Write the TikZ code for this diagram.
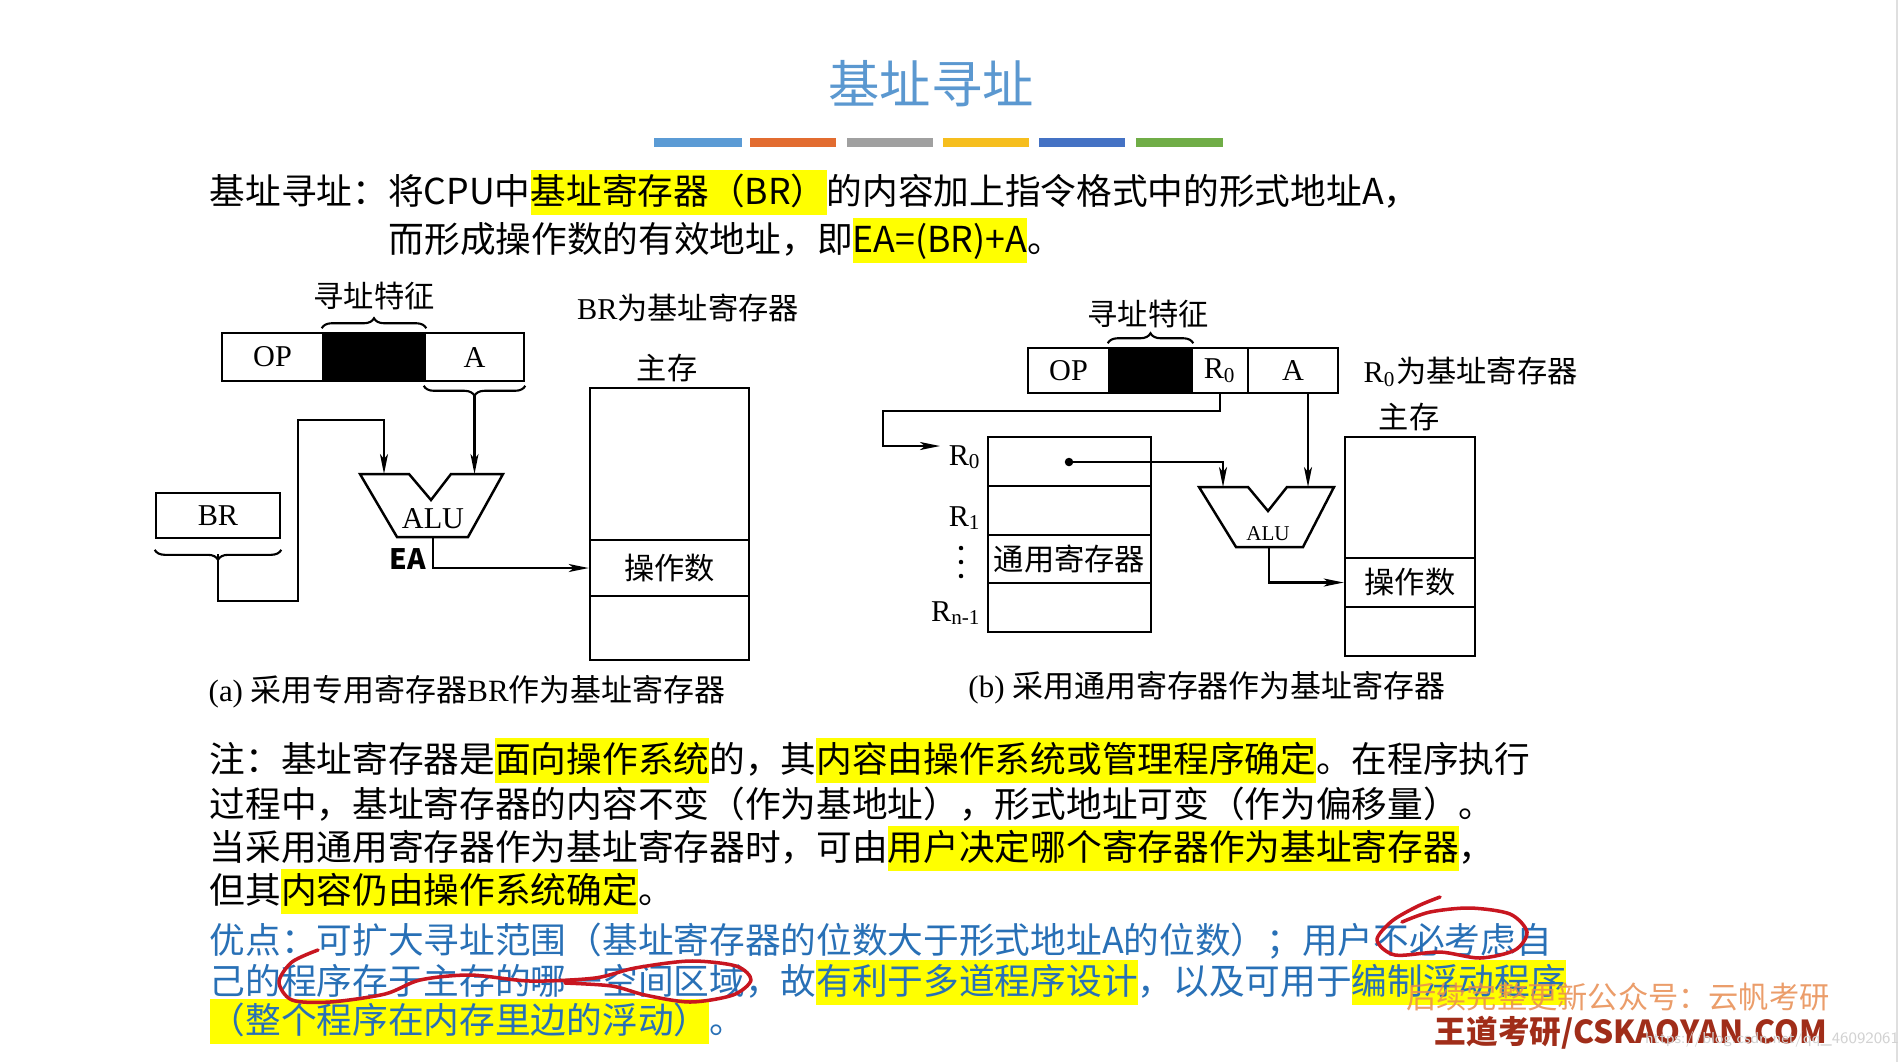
\documentclass[tikz,border=0pt]{standalone}
\usepackage{fontspec}
\setmainfont{Liberation Serif}
\newfontfamily\cjk{Noto Sans CJK SC}
\usetikzlibrary{arrows.meta,decorations.pathreplacing}

\definecolor{titleblue}{RGB}{91,152,208}
\definecolor{advblue}{RGB}{40,112,182}
\definecolor{hlyellow}{RGB}{255,255,0}
\definecolor{penred}{RGB}{200,22,32}
\definecolor{wmorange}{RGB}{232,140,80}
\definecolor{wmred}{RGB}{160,45,25}
\definecolor{barA}{RGB}{91,155,213}
\definecolor{barB}{RGB}{226,108,48}
\definecolor{barC}{RGB}{160,160,160}
\definecolor{barD}{RGB}{246,190,30}
\definecolor{barE}{RGB}{68,114,196}
\definecolor{barF}{RGB}{112,173,71}

\newcommand\lbl{\fontsize{8.6}{10}\selectfont}
\newcommand\hl[1]{{\setlength\fboxsep{0pt}\colorbox{hlyellow}{\rule[-3.2pt]{0pt}{13pt}#1}}}

\begin{document}
\begin{tikzpicture}[x=0.01cm, y=-0.01cm,
  box/.style={draw, line width=0.7pt},
  cell/.style={box, inner sep=0pt, font=\lbl},
  lbl/.style={inner sep=0pt, font=\lbl},
  zh/.style={inner sep=0pt, font=\cjk\lbl},
  wire/.style={line width=0.6pt},
  conn/.style={wire, -{Stealth[length=0.2cm,width=0.08cm,inset=0.05cm]}},
  brc/.style={line width=0.6pt, decorate, decoration={brace, amplitude=0.1cm}},
  vdot/.style={circle, fill, inner sep=0pt, minimum size=0.045cm},
  body/.style={inner sep=0pt, anchor=base west, font=\cjk\fontsize{10.15}{13}\selectfont},
  adv/.style={body, text=advblue},
  pen/.style={draw=penred, line width=1pt, line cap=round, line join=round}]
\useasboundingbox (0,0) rectangle (1902,1062);
\fill[white] (0,0) rectangle (1902,1062);
\draw[gray!25] (1897,0) -- (1897,1062);

% title and bars
\node[inner sep=0pt, font=\cjk\fontsize{14.6}{16}\selectfont, text=titleblue] (title) at (931,84) {基址寻址};
\fill[barA] (654,138) rectangle (742,147);
\fill[barB] (750,138) rectangle (836,147);
\fill[barC] (847,138) rectangle (933,147);
\fill[barD] (943,138) rectangle (1029,147);
\fill[barE] (1039,138) rectangle (1125,147);
\fill[barF] (1136,138) rectangle (1223,147);

% definition
\node[body] (defA) at (209,204) {基址寻址：将CPU中\hl{基址寄存器（BR）}的内容加上指令格式中的形式地址A，};
\node[body] (defB) at (388,252) {而形成操作数的有效地址，即\hl{EA=(BR)+A}。};

% (a) dedicated BR
\node[zh] (featA) at (374,296) {寻址特征};
\node[cell, minimum width=1.01cm, minimum height=0.48cm] (opA) at (272.5,357) {OP};
\node[cell, fill=black, minimum width=1.02cm, minimum height=0.48cm] (modA) at (374,357) {};
\node[cell, minimum width=0.99cm, minimum height=0.48cm] (addrA) at (474.5,357) {A};
\draw[brc] ([yshift=1pt]modA.north west) -- ([yshift=1pt]modA.north east);
\draw[brc] ([yshift=-1pt]addrA.south east) -- ([yshift=-1pt]addrA.south west);
\coordinate (aTip) at ([yshift=-0.13cm]addrA.south);

\node[cell, minimum width=1.24cm, minimum height=0.45cm] (brA) at (218,515.5) {BR};
\draw[brc] ([yshift=-3pt]brA.south east) -- ([yshift=-3pt]brA.south west);
\coordinate (brTip) at ([yshift=-0.15cm]brA.south);

\coordinate (aluAinL) at (384,474);
\coordinate (aluAinR) at (474.5,474);
\coordinate (aluAout) at (433,537);
\draw[box] (360,474) -- (409,474) -- (431,500) -- (451,474) -- (503,474) -- (468,537) -- (397,537) -- cycle;
\node[lbl] (aluA) at (433,519) {ALU};
\node[inner sep=0pt, font=\cjk\bfseries\fontsize{8}{9}\selectfont] (ea) at (408,559) {EA};

\draw[conn] (brTip) -- ++(0,47) -| (298,420) -| (aluAinL);
\draw[conn] (aTip) -- (aluAinR);

\node[zh] (bsA) at (688,308) {{\rmfamily BR}为基址寄存器};
\node[zh] (mainA) at (667,368) {主存};
\node[cell, minimum width=1.59cm, minimum height=1.52cm] (memAtop) at (669.5,464) {};
\node[cell, font=\cjk\lbl, minimum width=1.59cm, minimum height=0.56cm] (memAop) at (669.5,568) {操作数};
\node[cell, minimum width=1.59cm, minimum height=0.64cm] (memAbot) at (669.5,628) {};
\draw[conn] (aluAout) |- (memAop.west);

\node[lbl, font=\fontsize{8.8}{10}\selectfont] (capA) at (467,692) {(a) {\cjk 采用专用寄存器}BR{\cjk 作为基址寄存器}};

% (b) general register as base
\node[zh] (featB) at (1148,314) {寻址特征};
\node[cell, minimum width=0.81cm, minimum height=0.45cm] (opB) at (1068.5,370.5) {OP};
\node[cell, fill=black, minimum width=0.83cm, minimum height=0.45cm] (modB) at (1150.5,370.5) {};
\node[cell, minimum width=0.56cm, minimum height=0.45cm] (regB) at (1220,370.5) {R\textsubscript{0}};
\node[cell, minimum width=0.90cm, minimum height=0.45cm] (addrB) at (1293,370.5) {A};
\draw[brc] ([yshift=1pt]modB.north west) -- ([yshift=1pt]modB.north east);
\node[zh, anchor=west] (bsB) at (1363,372) {{\rmfamily R\textsubscript{0}}为基址寄存器};

\node[cell, minimum width=1.63cm, minimum height=0.49cm] (r0B) at (1069.5,461.5) {};
\node[cell, minimum width=1.63cm, minimum height=0.49cm] (r1B) at (1069.5,510.5) {};
\node[cell, font=\cjk\lbl, minimum width=1.63cm, minimum height=0.48cm] (genB) at (1069.5,559) {通用寄存器};
\node[cell, minimum width=1.63cm, minimum height=0.49cm] (rnB) at (1069.5,607.5) {};
\node[lbl, anchor=east] (r0lbl) at (982,457) {R\textsubscript{0}};
\node[lbl, anchor=east] (r1lbl) at (982,518) {R\textsubscript{1}};
\node[vdot] (dotA) at (961,548) {};
\node[vdot] (dotC) at (961,562) {};
\node[vdot] (dotD) at (961,576) {};
\node[lbl, anchor=east] (rnlbl) at (982,613) {R\textsubscript{n-1}};
\coordinate (r0in) at (940,446);
\draw[conn] (regB.south) -- ++(0,17) -| (883,446) -- (r0in);

\node[circle, fill, inner sep=0pt, minimum size=0.085cm] (dotB) at (1069,462) {};
\coordinate (aluBinL) at (1223,487);
\coordinate (aluBinR) at (1308,487);
\coordinate (aluBout) at (1269,547);
\draw[box] (1199,487) -- (1248,487) -- (1268,511) -- (1287,487) -- (1334,487) -- (1303,547) -- (1236,547) -- cycle;
\node[inner sep=0pt, font=\fontsize{6}{7}\selectfont] (aluB) at (1268,534) {ALU};
\draw[conn] (dotB.center) -| (aluBinL);
\draw[conn] (aluBinR |- addrB.south) -- (aluBinR);

\node[zh] (mainB) at (1409,417) {主存};
\node[cell, minimum width=1.30cm, minimum height=1.21cm] (memBtop) at (1410,497.5) {};
\node[cell, font=\cjk\lbl, minimum width=1.30cm, minimum height=0.49cm] (memBop) at (1410,582.5) {操作数};
\node[cell, minimum width=1.30cm, minimum height=0.49cm] (memBbot) at (1410,631.5) {};
\draw[conn] (aluBout) |- (memBop.west);

\node[lbl, font=\fontsize{8.8}{10}\selectfont] (capB) at (1207,688) {(b) {\cjk 采用通用寄存器作为基址寄存器}};

% notes
\node[body] (noteA) at (209,772) {注：基址寄存器是\hl{面向操作系统}的，其\hl{内容由操作系统或管理程序确定}。在程序执行};
\node[body] (noteB) at (209,817) {过程中，基址寄存器的内容不变（作为基地址），形式地址可变（作为偏移量）。};
\node[body] (noteC) at (209,860) {当采用通用寄存器作为基址寄存器时，可由\hl{用户决定哪个寄存器作为基址寄存器}，};
\node[body] (noteD) at (209,903) {但其\hl{内容仍由操作系统确定}。};

\node[adv] (advA) at (209,953) {优点：可扩大寻址范围（基址寄存器的位数大于形式地址A的位数）；用户不必考虑自};
\node[adv] (advB) at (209,994) {己的程序存于主存的哪一空间区域，故\hl{有利于多道程序设计}，以及可用于\hl{编制浮动程序}};
\node[adv] (advC) at (209,1033) {\hl{（整个程序在内存里边的浮动）}。};

% hand marks
\draw[pen] plot[smooth] coordinates {(1440,897) (1418,906) (1392,921) (1377,940) (1395,955) (1440,952) (1480,958) (1515,950) (1527,932) (1510,914) (1470,908) (1430,912) (1402,922)};
\draw[pen] plot[smooth] coordinates {(318,950) (292,962) (279,982) (292,1000) (330,1002) (385,994) (420,980) (470,975) (530,981) (595,978) (635,968) (690,961) (736,966) (751,980) (733,995) (690,1002) (645,995) (612,986) (565,983)};

% watermark
\node[inner sep=0pt, font=\cjk\fontsize{8.6}{10}\selectfont, text=wmorange, opacity=0.85] (wmA) at (1618,997) {后续完整更新公众号：云帆考研};
\node[inner sep=0pt, font=\cjk\bfseries\fontsize{9}{10}\selectfont, text=wmred] (wmB) at (1631,1033) {王道考研/CSKAOYAN.COM};
\node[inner sep=0pt, font=\sffamily\fontsize{4.5}{5}\selectfont, text=gray!35] (url) at (1772,1040) {https://blog.csdn.net/qq\_46092061};
\end{tikzpicture}
\end{document}
